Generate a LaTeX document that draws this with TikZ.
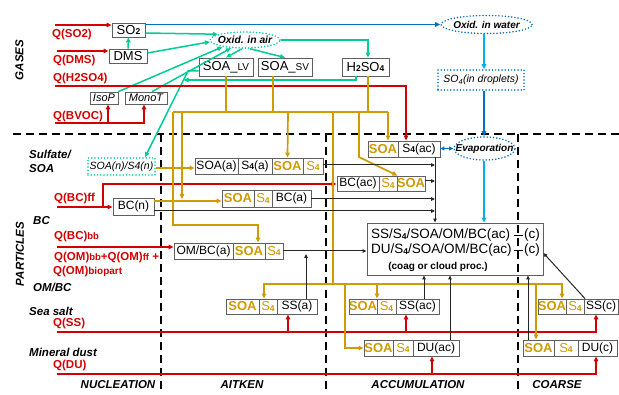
\documentclass[tikz,border=0pt]{standalone}
\usepackage{fontspec}
\setmainfont{Liberation Sans}
\usetikzlibrary{arrows.meta,shapes.geometric,calc}
\definecolor{qred}{RGB}{212,0,0}
\definecolor{tealc}{RGB}{0,204,150}
\definecolor{bluec}{RGB}{0,112,192}
\definecolor{cyanc}{RGB}{0,176,240}
\definecolor{goldc}{RGB}{207,155,0}
\definecolor{boxc}{RGB}{95,95,95}
\newcommand\fs[1]{\fontsize{#1}{#1}\selectfont}
\newcommand\ssq[1]{\raisebox{-0.6pt}{\bfseries\fs{8.5}#1}}
\newcommand\cbx[7]{%
 \pgfmathsetmacro\cbxcx{(#3+#4)/2}\pgfmathsetmacro\cbxcy{(#5+#6)/2}%
 \pgfmathsetmacro\cbxw{#4-#3}\pgfmathsetmacro\cbxh{#6-#5}%
 \node[#1, minimum width=\cbxw pt, minimum height=\cbxh pt] (#2) at (\cbxcx,\cbxcy) {#7};}
\tikzset{
 arr/.style={-{Triangle[length=5pt,width=4.5pt]}},
 karr/.style={-{Triangle[length=4pt,width=3.5pt]}},
 rl/.style={draw=qred, line width=1.7pt},
 tl/.style={draw=tealc, line width=1.5pt},
 gl/.style={draw=goldc, line width=1.7pt},
 bll/.style={draw=bluec, line width=1.8pt},
 cl/.style={draw=cyanc, line width=1.6pt},
 kl/.style={draw=black!85, line width=1pt},
 dl/.style={draw=black, line width=2.6pt, dash pattern=on 8pt off 5pt},
 cell/.style={draw=boxc, line width=0.8pt, inner sep=0pt, fill=white, font=\fs{12}},
 gcell/.style={cell, text=goldc, font=\fs{13}\bfseries},
 gfour/.style={cell, text=goldc, font=\fs{13}},
 gbox/.style={cell, font=\fs{13}},
 dotc/.style={line width=1.7pt, line cap=round, dash pattern=on 0pt off 3.2pt},
 lab/.style={font=\fs{11.5}\bfseries\itshape, inner sep=0pt, anchor=west},
 qlab/.style={font=\fs{11.5}\bfseries, text=qred, inner sep=0pt, anchor=west},
}
\begin{document}
\begin{tikzpicture}[x=1pt,y=-1pt]
\useasboundingbox (0,0) rectangle (619,395);

% ---------- dashed frame ----------
\coordinate (dhL) at (13,134); \coordinate (dhR) at (619,134);
\coordinate (d1t) at (161,134); \coordinate (d1b) at (161,393);
\coordinate (d2t) at (326,134); \coordinate (d2b) at (326,393);
\coordinate (d3t) at (518,134); \coordinate (d3b) at (518,393);
\draw[dl] (dhL) -- (dhR);
\draw[dl] (d1t) -- (d1b);
\draw[dl] (d2t) -- (d2b);

% ---------- labels ----------
\node[lab, rotate=90, anchor=center] (lgas) at (19.5,60) {GASES};
\node[lab, rotate=90, anchor=center] (lpart) at (20,254) {PARTICLES};
\node[lab] (lsulf) at (29,154) {Sulfate/};
\node[lab] (lsoa) at (29,169) {SOA};
\node[lab] (lbc) at (33,221) {BC};
\node[lab] (lom) at (33,287) {OM/BC};
\node[lab] (lss) at (29,311) {Sea salt};
\node[lab] (ldu) at (29,352) {Mineral dust};
\node[lab, anchor=center] (lnuc) at (118,385) {NUCLEATION};
\node[lab, anchor=center] (lait) at (242,385) {AITKEN};
\node[lab, anchor=center] (lacc) at (418,385) {ACCUMULATION};
\node[lab, anchor=center] (lcoa) at (557,385) {COARSE};

\node[qlab] (tqso2) at (52,34.5) {Q(SO2)};
\node[qlab] (tqdms) at (53,60.5) {Q(DMS)};
\node[qlab] (tqh) at (53,78.5) {Q(H2SO4)};
\node[qlab] (tqbv) at (53,116.5) {Q(BVOC)};
\node[qlab] (tqbc) at (54,199) {Q(BC)ff};
\node[qlab] (tqbb) at (54,237) {Q(BC){\fs{9.5}bb}};
\node[qlab] (tqom) at (54,258) {Q(OM){\fs{9.5}bb}+Q(OM){\fs{9.5}ff} +};
\node[qlab] (tqbio) at (53,272) {Q(OM){\fs{10}biopart}};
\node[qlab] (tqss) at (53,324) {Q(SS)};
\node[qlab] (tqdu) at (53,366) {Q(DU)};

% ---------- gas nodes ----------
\cbx{gbox}{so2}{112}{145}{23}{37}{SO\ssq{2}}
\cbx{gbox}{dms}{109}{147}{49}{63}{DMS}
\cbx{cell, font=\fs{11}\itshape}{isop}{90}{118}{92}{104}{IsoP}
\cbx{cell, font=\fs{11}\itshape}{monot}{125}{167}{92}{104}{MonoT}
\cbx{gbox}{soalv}{199}{253}{58}{76}{SOA\_{\fs{10}LV}}
\cbx{gbox}{soasv}{258}{312}{58}{76}{SOA\_{\fs{10}SV}}
\cbx{gbox}{h2so4}{342}{389}{58}{76}{H\ssq{2}SO\ssq{4}}

\node[ellipse, draw=tealc, dotc, minimum width=70pt, minimum height=16pt, inner sep=0pt] (oxair) at (245,40) {};
\node[font=\fs{10.3}\bfseries\itshape, inner sep=0pt] (toxair) at (oxair) {Oxid. in air};
\node[ellipse, draw=bluec, dotc, minimum width=91pt, minimum height=18pt, inner sep=0pt] (oxwat) at (486.5,24.5) {};
\node[font=\fs{10}\bfseries\itshape, inner sep=0pt] (toxwat) at (oxwat) {Oxid. in water};
\cbx{draw=bluec, dotc, inner sep=0pt, font=\fs{10.5}\itshape}{so4d}{438}{524}{70}{90}{SO\textsubscript{4}(in droplets)}
\node[ellipse, draw=bluec, dotc, minimum width=61pt, minimum height=23pt, inner sep=0pt] (evap) at (484.5,148.5) {};
\node[font=\fs{10}\bfseries\itshape, inner sep=0pt] (tevap) at (evap) {Evaporation};

% ---------- particle nodes ----------
\cbx{draw=tealc, dotc, inner sep=0pt, font=\fs{10.5}\itshape}{soan}{88}{155}{158}{175}{SOA(n)/S4(n)}

\cbx{cell}{soaa}{195}{238}{158}{174}{SOA(a)}
\cbx{cell}{s4a}{238}{272}{158}{174}{S\ssq{4}(a)}
\cbx{gcell}{gsoaa}{272}{303}{158}{174}{SOA}
\cbx{gfour}{gs4a}{303}{323}{158}{174}{S\ssq{4}}

\cbx{gcell}{gsoaac}{368}{398}{141}{157}{SOA}
\cbx{cell}{s4ac}{398}{440}{141}{157}{S\ssq{4}(ac)}

\cbx{cell}{bcac}{337}{379}{176}{191}{BC(ac)}
\cbx{gfour}{gs4bcac}{379}{397}{176}{191}{S\ssq{4}}
\cbx{gcell}{gsoabcac}{397}{425}{176}{191}{SOA}

\cbx{gcell}{gsoabca}{222}{254}{190}{207}{SOA}
\cbx{gfour}{gs4bca}{254}{272}{190}{207}{S\ssq{4}}
\cbx{cell}{bca}{272}{311}{190}{207}{BC(a)}

\cbx{cell}{bcn}{113}{154}{198}{215}{BC(n)}

\cbx{cell}{ombc}{174}{233}{243}{259}{OM/BC(a)}
\cbx{gcell}{gsoaom}{233}{265}{243}{259}{SOA}
\cbx{gfour}{gs4om}{265}{283}{243}{259}{S\ssq{4}}

\cbx{gcell}{gsoassa}{226}{259}{299}{314}{SOA}
\cbx{gfour}{gs4ssa}{259}{277}{299}{314}{S\ssq{4}}
\cbx{cell}{ssa}{277}{317}{299}{314}{SS(a)}

\cbx{gcell}{gsoassac}{349}{377}{299}{314}{SOA}
\cbx{gfour}{gs4ssac}{377}{396}{299}{314}{S\ssq{4}}
\cbx{cell}{ssac}{396}{439}{299}{314}{SS(ac)}

\cbx{gcell}{gsoassc}{538}{566}{299}{314}{SOA}
\cbx{gfour}{gs4ssc}{566}{584}{299}{314}{S\ssq{4}}
\cbx{cell}{ssc}{584}{618}{299}{314}{SS(c)}

\cbx{gcell}{gsoaduac}{364}{393}{340}{356}{SOA}
\cbx{gfour}{gs4duac}{393}{413}{340}{356}{S\ssq{4}}
\cbx{cell}{duac}{413}{459}{340}{356}{DU(ac)}

\cbx{gcell}{gsoaduc}{523}{554}{340}{356}{SOA}
\cbx{gfour}{gs4duc}{554}{578}{340}{356}{S\ssq{4}}
\cbx{cell}{duc}{578}{617}{340}{356}{DU(c)}

\cbx{draw=boxc, line width=0.8pt, inner sep=0pt}{coag}{367}{543}{223}{275}{}
\node[anchor=west, inner sep=0pt, font=\fs{13.5}] (ct1) at (371,235.5) {SS/S\ssq{4}/SOA/OM/BC(ac)};
\node[anchor=west, inner sep=0pt, font=\fs{13.5}] (ct2) at (371,250.5) {DU/S\ssq{4}/SOA/OM/BC(ac)};
\node[anchor=west, inner sep=0pt, font=\fs{13.5}] (cc1) at (524,235.5) {(c)};
\node[anchor=west, inner sep=0pt, font=\fs{13.5}] (cc2) at (524,250.5) {(c)};
\coordinate (tk1a) at (513.5,236); \coordinate (tk1b) at (522.5,236);
\coordinate (tk2a) at (513.5,251); \coordinate (tk2b) at (522.5,251);
\draw[black, line width=1pt] (tk1a) -- (tk1b);
\draw[black, line width=1pt] (tk2a) -- (tk2b);
\node[font=\fs{10}\bfseries, inner sep=0pt] (ct3) at (438,267) {(coag or cloud proc.)};
\draw[dl] (d3t) -- (d3b);

% ---------- teal connectors ----------
\coordinate (hret) at (356,80); \coordinate (tdiag) at (188,71); \coordinate (tjoin) at (183.5,80);
\draw[tl,arr] (dms.north) -- (so2.south);
\draw[tl,arr] (so2.east |- 0,33) -- (oxair.168);
\draw[tl,arr] (dms.east |- 0,53) -- (oxair.183);
\draw[tl,arr] (isop.north east) -- (oxair.197);
\draw[tl,arr] (152,0 |- monot.north) -- (oxair.210);
\draw[tl,arr] (oxair.250) -- (soalv.north);
\draw[tl,arr] (oxair.300) -- (soasv.north);
\draw[tl,arr] (oxair.east) -| (368,0 |- h2so4.north);
\draw[tl,arr] (356,0 |- h2so4.south) -- (hret) -- (tjoin);
\draw[tl,arr] (soalv.west |- tdiag) -- (tdiag) -- (145,0 |- soan.north);

% ---------- blue connectors ----------
\draw[bll,arr] (so2.east |- oxwat.west) -- (oxwat.west);
\draw[cl,arr] (484,0 |- oxwat.south) -- (484,0 |- so4d.north);
\draw[bll,arr] (484,0 |- so4d.south) -- (484,0 |- evap.north);
\draw[bll,{Triangle[length=4pt,width=4pt]}-{Triangle[length=4pt,width=4pt]}] (evap.west) -- (s4ac.east |- evap.west);
\draw[cl,arr] (484,0 |- evap.south) -- (484,0 |- coag.north);

% ---------- red connectors ----------
\coordinate (qso2) at (55,25); \coordinate (qdms) at (57,51);
\coordinate (qh) at (55,86); \coordinate (qhc) at (406,86);
\coordinate (qbv) at (55,123); \coordinate (qbvr) at (144,123); \coordinate (qbvi) at (108,123);
\coordinate (qbc) at (57,207); \coordinate (qbcj) at (103,207); \coordinate (qbc2) at (103,184);
\coordinate (qbb) at (57,247);
\coordinate (qss) at (57,332); \coordinate (qssr) at (596,332);
\coordinate (qssa) at (288,332); \coordinate (qssac) at (406,332);
\coordinate (qdu) at (57,374); \coordinate (qdur) at (596,374); \coordinate (qduac) at (432,374);
\draw[rl,arr] (qso2) -- (qso2 -| so2.west);
\draw[rl,arr] (qdms) -- (qdms -| dms.west);
\draw[rl,arr] (qh) -- (qhc) -- (qhc |- s4ac.north);
\draw[rl,arr] (qbv) -- (qbvr) -- (qbvr |- monot.south);
\draw[rl,arr] (qbvi) -- (qbvi |- isop.south);
\draw[rl,arr] (qbc) -- (qbc -| bcn.west);
\draw[rl,arr] (qbcj) -- (qbc2) -- (qbc2 -| bcac.west);
\draw[rl,arr] (qbb) -- (qbb -| ombc.west);
\draw[rl,arr] (qss) -- (qssr) -- (qssr |- ssc.south);
\draw[rl,arr] (qssa) -- (qssa |- ssa.south);
\draw[rl,arr] (qssac) -- (qssac |- ssac.south);
\draw[rl,arr] (qdu) -- (qdur) -- (qdur |- duc.south);
\draw[rl,arr] (qduac) -- (qduac |- duac.south);

% ---------- gold connectors ----------
\coordinate (gL) at (173,112); \coordinate (gR) at (388,112);
\coordinate (gb) at (264,284); \coordinate (gbr) at (562,284);
\draw[gl] (soalv.south) -- (226,112);
\draw[gl] (273,0 |- soasv.south) -- (273,112);
\draw[gl] (368,0 |- h2so4.south) -- (368,112);
\draw[gl] (gL) -- (gR);
\draw[gl,arr] (288,112) -- (gsoaa.north);
\draw[gl] (333,112) -- (333,284);
\draw[gl,arr] (359,112) -- (359,157) -- (gs4bcac.north east);
\draw[gl,arr] (gR) -- (gR |- gsoaac.north);
\draw[gl,arr] (182,112) -- (182,199);
\draw[gl,arr] (gL) -- (173,225) -- (258,225) -- (258,0 |- gsoaom.north);
\draw[gl,arr] (soan.east |- 0,168) -- (soaa.west |- 0,168);
\draw[gl,arr] (bcn.east |- 0,201) -- (gsoabca.west |- 0,201);
\draw[gl,{Triangle[length=5pt,width=4.5pt]}-{Triangle[length=5pt,width=4.5pt]}] (gb |- gsoassa.north) -- (gb) -- (gbr) -- (gbr |- gsoassc.north);
\draw[gl,arr] (377,284) -- (377,0 |- gsoassac.north);
\draw[gl,arr] (345,284) -- (345,348) -- (gsoaduac.west);
\draw[gl,arr] (536,284) -- (536,0 |- gsoaduc.north);

% ---------- black connectors ----------
\coordinate (kx) at (435,0);
\draw[kl,karr] (gs4a.east |- 0,165) -- (kx |- 0,165);
\draw[kl,karr] (gsoabcac.east |- 0,181) -- (kx |- 0,181);
\draw[kl,karr] (bca.east |- 0,199) -- (kx |- 0,199);
\draw[kl,karr] (bcn.east |- 0,211) -- (kx |- 0,211);
\draw[kl,karr] (kx |- s4ac.south) -- (kx |- coag.north);
\draw[kl,karr] (gs4om.east) -- (coag.west |- gs4om.east);
\draw[kl,karr] (306,0 |- ssa.north) -- (306,254);
\draw[kl,karr] (424,0 |- ssac.north) -- (424,0 |- coag.south);
\draw[kl,karr] (450,0 |- duac.north) -- (450,0 |- coag.south);
\draw[kl,karr] (528,0 |- gsoaduc.north) -- (528,0 |- coag.south);
\draw[kl,karr] (585,0 |- ssc.north) -- ($(coag.east)+(0,4)$);
\end{tikzpicture}
\end{document}
